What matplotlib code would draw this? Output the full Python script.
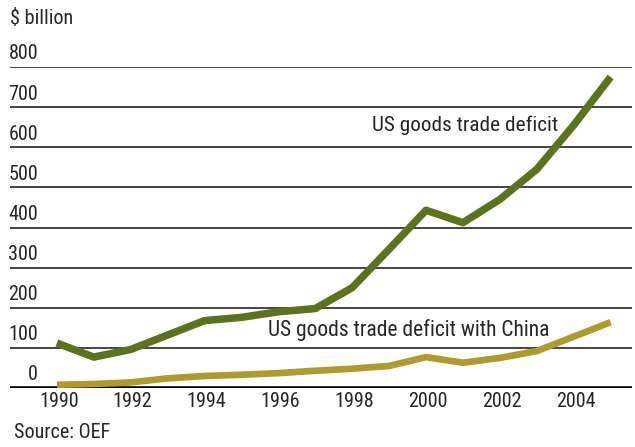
import matplotlib.pyplot as plt
import matplotlib.transforms as mtransforms
from matplotlib import font_manager
import numpy as np

# data, $ billion
years = np.arange(1990, 2006)
us_deficit = [112, 77, 96, 132, 168, 176, 190, 198, 250, 346, 443, 412, 470, 545, 655, 775]
china_deficit = [8, 10, 14, 24, 30, 33, 37, 43, 48, 55, 77, 63, 75, 92, 128, 164]
y_ticks = [0, 100, 200, 300, 400, 500, 600, 700, 800]
x_ticks = [1990, 1992, 1994, 1996, 1998, 2000, 2002, 2004]

# look for a narrow font, the original uses a condensed face
narrow = None
for f in font_manager.fontManager.ttflist:
    low = f.fname.lower()
    if ('narrow' in low or 'condensed' in low) and 'bold' not in low and 'italic' not in low \
            and 'oblique' not in low and 'semi' not in low and 'extra' not in low:
        narrow = f.fname
        if 'liberation' in low:
            break
if narrow:
    fp = font_manager.FontProperties(fname=narrow)
else:
    fp = font_manager.FontProperties(family='DejaVu Sans', stretch='condensed')

W, H = 635, 447
fig = plt.figure(figsize=(W / 100, H / 100), dpi=100)
ax = fig.add_axes([10 / W, 1 - 388 / H, 622 / W, (388 - 67) / H])

green = '#5d721e'
gold = '#ad9b2e'
txt = '#262626'

# grid lines
for v in y_ticks[1:]:
    ax.axhline(v, color='#444444', lw=1.4, zorder=1)
ax.axhline(0, color='black', lw=2.6, zorder=3)

ax.plot(years, us_deficit, color=green, lw=5.4, solid_capstyle='butt', zorder=4)
ax.plot(years, china_deficit, color=gold, lw=4.8, solid_capstyle='butt', zorder=4)

ax.set_ylim(0, 800)
ax.set_xlim(1988.73, 2005.58)
ax.set_xticks([])
ax.set_yticks([])
for s in ax.spines.values():
    s.set_visible(False)

# y labels sit above each grid line at the left
trans = mtransforms.blended_transform_factory(ax.transAxes, ax.transData)
for v in y_ticks:
    ax.text(28 / 622, v + 9, str(v), transform=trans, ha='right', va='bottom',
            fontproperties=fp, fontsize=14.5, color=txt)

for yr in x_ticks:
    ax.text(yr + 0.05, -10, str(yr), ha='center', va='top', fontproperties=fp, fontsize=14.5, color=txt)

fig.text(10 / W, 1 - 18 / H, '$ billion', ha='left', va='center', fontproperties=fp, fontsize=14.5, color=txt)
fig.text(14 / W, 1 - 433 / H, 'Source: OEF', ha='left', va='center', fontproperties=fp, fontsize=14.5, color=txt)

ax.text(1998.55, 655, 'US goods trade deficit', ha='left', va='center', fontproperties=fp, fontsize=15.3, color=txt)
ax.text(1995.73, 145, 'US goods trade deficit with China', ha='left', va='center', fontproperties=fp, fontsize=15.5, color=txt)

fig.savefig('out.png', dpi=100)
